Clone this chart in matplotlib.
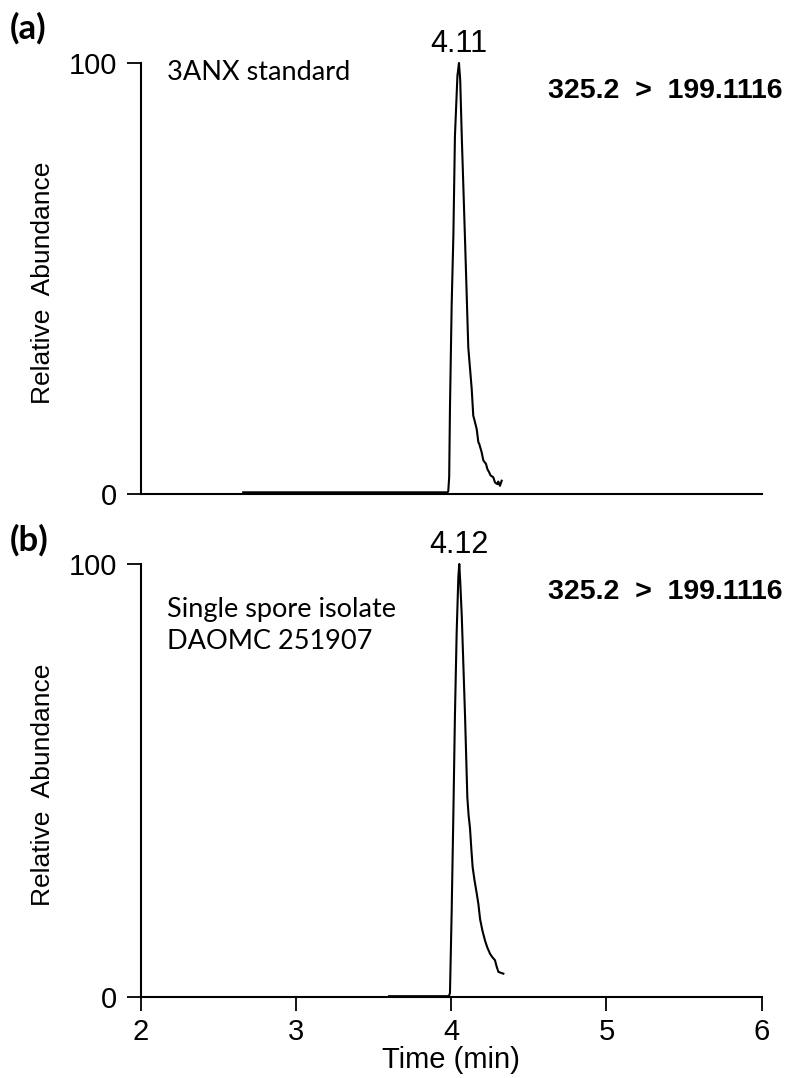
import matplotlib
matplotlib.use("Agg")
import matplotlib.pyplot as plt

# trace (a): 3ANX standard
time_a = [2.66, 3.975, 3.981, 3.987, 3.992, 4.003, 4.014, 4.024, 4.040, 4.050,
          4.058, 4.068, 4.089, 4.110, 4.132, 4.142, 4.153, 4.164, 4.175, 4.181,
          4.196, 4.207, 4.224, 4.233, 4.245, 4.254, 4.271, 4.282, 4.297, 4.303,
          4.314, 4.325]
abund_a = [0.4, 0.4, 0.6, 4.0, 20.0, 44.0, 60.0, 83.0, 97.0, 100.0,
           96.0, 83.0, 59.0, 34.0, 24.4, 18.2, 16.7, 15.1, 12.0, 11.6,
           9.7, 7.8, 7.0, 5.8, 5.0, 4.3, 3.9, 2.7, 2.3, 2.9,
           1.9, 3.1]

# trace (b): single spore isolate DAOMC 251907
time_b = [3.60, 3.985, 3.992, 4.003, 4.014, 4.024, 4.035, 4.046, 4.052, 4.058,
          4.068, 4.089, 4.104, 4.112, 4.121, 4.130, 4.138, 4.150, 4.164, 4.175,
          4.186, 4.200, 4.218, 4.232, 4.250, 4.265, 4.282, 4.293, 4.304, 4.320,
          4.336]
abund_b = [0.2, 0.2, 0.9, 19.8, 42.5, 65.0, 84.0, 97.0, 100.0, 96.0,
           88.0, 65.0, 46.0, 42.0, 39.0, 34.0, 30.0, 27.0, 24.0, 21.5,
           18.0, 15.5, 13.0, 11.5, 10.0, 9.2, 8.5, 7.0, 5.8, 5.6,
           5.4]

peak_labels = ["4.11", "4.12"]
peak_pos = [4.05, 4.052]
sample_labels = ["3ANX standard", "Single spore isolate\nDAOMC 251907"]
transition = "325.2  >  199.1116"
panel_tags = ["(a)", "(b)"]
x_ticks = [2, 3, 4, 5, 6]
y_ticks = [0, 100]

arial = "Liberation Sans"
calibri = "Lato"

fig = plt.figure(figsize=(7.88, 10.78), dpi=100)
ax_a = fig.add_axes([0.1786, 0.5417, 0.788, 0.3999])
ax_b = fig.add_axes([0.1786, 0.0751, 0.788, 0.4017])

data = [(time_a, abund_a), (time_b, abund_b)]
for i, ax in enumerate([ax_a, ax_b]):
    t, a = data[i]
    ax.plot(t, a, color="black", lw=1.5, clip_on=False)
    ax.set_xlim(2, 6)
    ax.set_ylim(0, 100)
    ax.spines["top"].set_visible(False)
    ax.spines["right"].set_visible(False)
    ax.spines["left"].set_linewidth(1.5)
    ax.spines["bottom"].set_linewidth(1.5)
    ax.set_yticks(y_ticks)
    ax.set_yticklabels([str(v) for v in y_ticks], fontfamily=arial, fontsize=21)
    ax.tick_params(axis="y", direction="out", length=10, width=1.3, pad=7)
    ax.set_ylabel("Relative  Abundance", fontfamily=arial, fontsize=19)
    ax.yaxis.set_label_coords(-0.138, 0.49)
    ax.text(peak_pos[i], 101, peak_labels[i], ha="center", va="bottom",
            fontfamily=arial, fontsize=22)
    ax.text(1.034, 0.935, transition, transform=ax.transAxes, ha="right",
            va="center", fontfamily=arial, fontsize=20.5, fontweight="bold")
    fig.text(0.012, [0.974, 0.499][i], panel_tags[i], ha="left", va="center",
             fontfamily=calibri, fontsize=25, fontweight="bold")

ax_a.text(0.042, 0.979, sample_labels[0], transform=ax_a.transAxes,
          ha="left", va="center", fontfamily=calibri, fontsize=19.5)
ax_b.text(0.042, 0.859, sample_labels[1], transform=ax_b.transAxes,
          ha="left", va="center", fontfamily=calibri, fontsize=19.5,
          linespacing=1.35)

ax_a.set_xticks([])
ax_b.set_xticks(x_ticks)
ax_b.set_xticklabels([str(v) for v in x_ticks], fontfamily=arial, fontsize=21)
ax_b.tick_params(axis="x", direction="out", length=10, width=1.3, pad=5)
ax_b.set_xlabel("Time (min)", fontfamily=arial, fontsize=21)
ax_b.xaxis.set_label_coords(0.5, -0.112)

fig.savefig("out.png", dpi=100)
